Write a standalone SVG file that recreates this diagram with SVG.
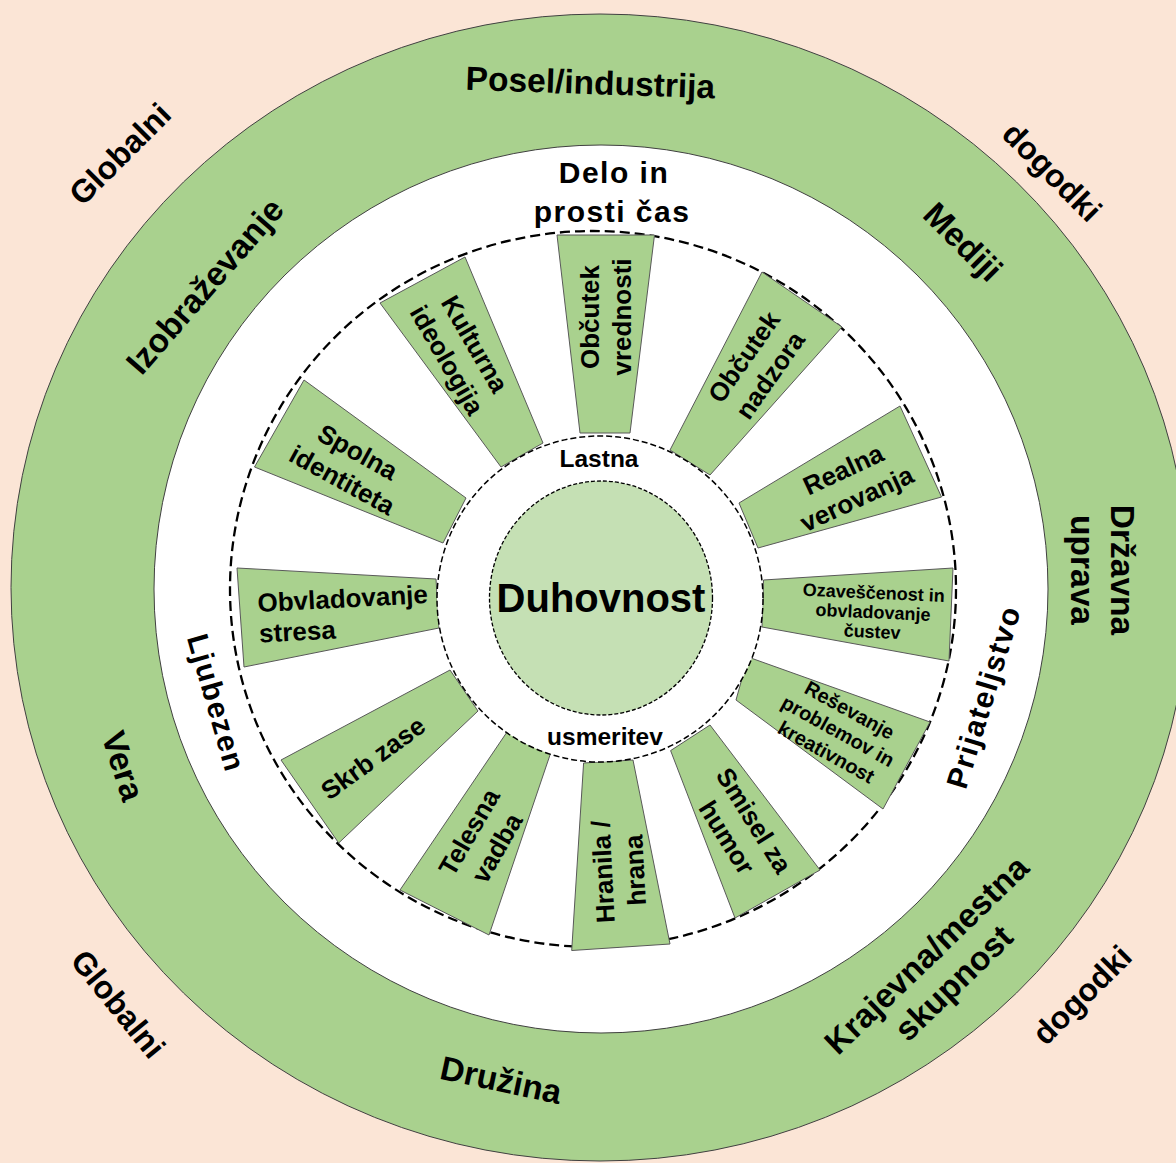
<svg xmlns="http://www.w3.org/2000/svg" width="1176" height="1163" viewBox="0 0 1176 1163">
<style>
text{font-family:"Liberation Sans",Arial,sans-serif;font-weight:bold;fill:#000;text-anchor:middle}
.box{font-size:26px}
.sm{font-size:18px}
.md{font-size:20px}
.ring{font-size:30px;letter-spacing:1.5px}
.outer{font-size:33.5px}
.peach{font-size:32px}
.core{font-size:40px}
.lab{font-size:24.5px}
.spoke{fill:#A9D18E;stroke:#595959;stroke-width:1}
</style>
<rect width="1176" height="1163" fill="#FBE5D6"/>
<g id="outer-ring">
<ellipse cx="600" cy="587.5" rx="589" ry="573.5" fill="#A9D18E" stroke="#404040" stroke-width="1"/>
<g transform="translate(590 94) rotate(2)"><text class="outer" y="0">Posel/industrija</text></g>
<g transform="translate(205 286) rotate(-49)"><text class="outer" y="11.5">Izobraževanje</text></g>
<g transform="translate(963 242) rotate(45)"><text class="outer" y="11.5">Mediji</text></g>
<g transform="translate(1091 570) rotate(90)"><text class="outer"><tspan x="0" y="-20">Državna</tspan><tspan x="0" y="20">uprava</tspan></text></g>
<g transform="translate(940 969) rotate(-44)"><text class="outer"><tspan x="0" y="-8">Krajevna/mestna</tspan><tspan x="0" y="31">skupnost</tspan></text></g>
<g transform="translate(501 1080) rotate(12)"><text class="outer" y="11.5">Družina</text></g>
<g transform="translate(123 766) rotate(72)"><text class="outer" y="11.5">Vera</text></g>
</g>
<g id="context-labels">
<g transform="translate(120 154) rotate(-45)"><text class="peach" y="11">Globalni</text></g>
<g transform="translate(1052 172) rotate(45)"><text class="peach" y="11">dogodki</text></g>
<g transform="translate(118 1004) rotate(51)"><text class="peach" y="11">Globalni</text></g>
<g transform="translate(1082 995) rotate(-45)"><text class="peach" y="11">dogodki</text></g>
</g>
<g id="relations-ring">
<ellipse cx="601" cy="589" rx="447" ry="444" fill="#FFFFFF" stroke="#404040" stroke-width="1"/>
<text class="ring"><tspan x="614" y="183">Delo in</tspan><tspan x="612" y="222">prosti čas</tspan></text>
<g transform="translate(984 697) rotate(-73)"><text class="ring" y="10">Prijateljstvo</text></g>
<g transform="translate(216 703) rotate(74)"><text class="ring" y="10">Ljubezen</text></g>
</g>
<ellipse id="dashed-boundary" cx="593" cy="589" rx="363" ry="358" fill="none" stroke="#000" stroke-width="2.3" stroke-dasharray="10 5"/>
<g id="spokes">
<g id="s-vrednosti"><polygon class="spoke" points="557,235 654.5,235 630,433 580,433"/>
<g transform="translate(606 317) rotate(-90)"><text class="box"><tspan x="0" y="-6.9">Občutek</tspan><tspan x="0" y="25.1">vrednosti</tspan></text></g></g>
<g id="s-nadzora"><polygon class="spoke" points="762,272 842,327 710,475 670,450"/>
<g transform="translate(757 366) rotate(-55)"><text class="box"><tspan x="0" y="-6.9">Občutek</tspan><tspan x="0" y="25.1">nadzora</tspan></text></g></g>
<g id="s-verovanja"><polygon class="spoke" points="900,406 941.5,497 758,548 739,503"/>
<g transform="translate(850 484) rotate(-25)"><text class="box"><tspan x="0" y="-6.9">Realna</tspan><tspan x="0" y="25.1">verovanja</tspan></text></g></g>
<g id="s-custva"><polygon class="spoke" points="953,568 949,661 762,627 763.5,580"/>
<g transform="translate(873 612) rotate(2.5)"><text class="sm"><tspan x="0" y="-13.2">Ozaveščenost in</tspan><tspan x="0" y="6.3">obvladovanje</tspan><tspan x="0" y="25.8">čustev</tspan></text></g></g>
<g id="s-resevanje"><polygon class="spoke" points="930,722 883,809 736,700 748,657"/>
<g transform="translate(838 731) rotate(29)"><text class="md"><tspan x="0" y="-17">Reševanje</tspan><tspan x="0" y="7">problemov in</tspan><tspan x="0" y="31">kreativnost</tspan></text></g></g>
<g id="s-humor"><polygon class="spoke" points="820,870 735,918 670.6,750.6 710,725"/>
<g transform="translate(740.5 829) rotate(58)"><text class="box"><tspan x="0" y="-6.9">Smisel za</tspan><tspan x="0" y="25.1">humor</tspan></text></g></g>
<g id="s-hrana"><polygon class="spoke" points="670,944 571.7,950.5 583.6,763 633,760"/>
<g transform="translate(619 871) rotate(-93)"><text class="box"><tspan x="0" y="-6.9">Hranila /</tspan><tspan x="0" y="25.1">hrana</tspan></text></g></g>
<g id="s-vadba"><polygon class="spoke" points="489,935 400,890 507,732 551,752"/>
<g transform="translate(483 840) rotate(-60)"><text class="box"><tspan x="0" y="-6.9">Telesna</tspan><tspan x="0" y="25.1">vadba</tspan></text></g></g>
<g id="s-skrb"><polygon class="spoke" points="338.7,843 281,760 450,670 478,711"/>
<g transform="translate(373 758) rotate(-36)"><text class="box" y="9.1">Skrb zase</text></g></g>
<g id="s-stres"><polygon class="spoke" points="244,667 237,568 436,579 439,628"/>
<g transform="translate(258 612) rotate(-3)"><text class="box" style="text-anchor:start"><tspan x="0" y="0">Obvladovanje</tspan><tspan x="0" y="30.5">stresa</tspan></text></g></g>
<g id="s-spolna"><polygon class="spoke" points="254.5,467 304,380 466,498 443,543"/>
<g transform="translate(350 466) rotate(29)"><text class="box"><tspan x="0" y="-6.9">Spolna</tspan><tspan x="0" y="25.1">identiteta</tspan></text></g></g>
<g id="s-kultura"><polygon class="spoke" points="380,303 465,257 543,443 501,467"/>
<g transform="translate(461 352) rotate(60)"><text class="box"><tspan x="0" y="-6.9">Kulturna</tspan><tspan x="0" y="25.1">ideologija</tspan></text></g></g>
</g>
<g id="orientation">
<circle cx="600" cy="599" r="163" fill="#FFFFFF" stroke="#000" stroke-width="1.5" stroke-dasharray="6 3"/>
<text class="lab" x="599" y="467">Lastna</text>
<text class="lab" x="605" y="745">usmeritev</text>
</g>
<g id="core">
<ellipse cx="601" cy="598" rx="111.5" ry="117" fill="#C5E0B4" stroke="#000" stroke-width="1.3" stroke-dasharray="4 2"/>
<text class="core" x="601" y="612">Duhovnost</text>
</g>
</svg>
